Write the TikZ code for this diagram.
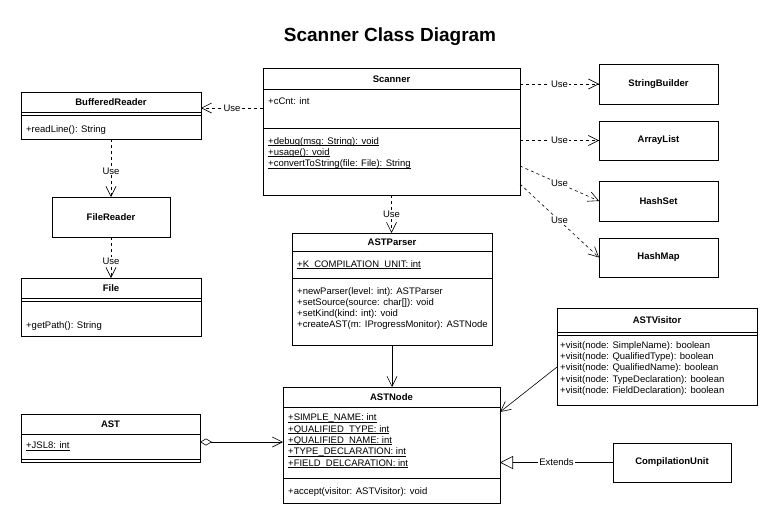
\documentclass[tikz,border=0pt]{standalone}
\usepackage{fontspec}
\setmainfont{Liberation Sans}
\usepackage{tikz}
\usetikzlibrary{arrows.meta}
\usetikzlibrary{calc}
\newlength\statw
\newcommand\ulstatic[1]{\settowidth\statw{#1}\rlap{\rule[-1.4pt]{\statw}{0.5pt}}#1}

\begin{document}
\begin{tikzpicture}[x=1pt,y=-1pt,
  cls/.style={draw=black, line width=0.8pt, inner sep=0pt, outer sep=0pt, anchor=north west},
  sep/.style={line width=0.8pt},
  cname/.style={font=\fontsize{9.5}{11.3}\selectfont\bfseries, inner sep=0pt},
  member/.style={font=\fontsize{9.5}{11.3}\selectfont, inner sep=0pt, anchor=west, align=left},
  uses/.style={line width=0.6pt, dash pattern=on 3pt off 3pt, -{Straight Barb[length=10pt,width=10pt]}},
  assoc/.style={line width=0.6pt, -{Straight Barb[length=10pt,width=10pt]}},
  agg/.style={line width=0.6pt, {Diamond[open,length=12pt,width=7pt]}-{Straight Barb[length=10pt,width=10pt]}},
  ext/.style={line width=0.6pt, -{Triangle[open,length=13pt,width=13pt]}},
  lbl/.style={font=\fontsize{9.5}{11}\selectfont, fill=white, inner sep=1pt}]
\useasboundingbox (0,0) rectangle (779,525);
\node[font=\fontsize{19}{22}\selectfont\bfseries] (title) at (390,37) {Scanner Class Diagram};

\node[cls, minimum width=257pt, minimum height=127pt] (scanner) at (263,68) {};
\draw[sep] (263,89) -- (520,89);
\draw[sep] (263,128) -- (520,128);
\node[cname] (scanner-n) at (391.5,79) {Scanner};
\node[member] (scanner-a) at (268,101) {+cCnt: int};
\node[member] (scanner-o) at (268,153) {\ulstatic{+debug(msg: String): void}\\\ulstatic{+usage(): void}\\\ulstatic{+convertToString(file: File): String}};

\node[cls, minimum width=180pt, minimum height=47pt] (reader) at (21,92) {};
\draw[sep] (21,112) -- (201,112);
\draw[sep] (21,115) -- (201,115);
\node[cname] (reader-n) at (111,102) {BufferedReader};
\node[member] (reader-o) at (26,130) {+readLine(): String};

\node[cls, cname, minimum width=118pt, minimum height=40pt] (freader) at (52,197) {FileReader};

\node[cls, minimum width=180pt, minimum height=58pt] (file) at (21,278) {};
\draw[sep] (21,298) -- (201,298);
\draw[sep] (21,301) -- (201,301);
\node[cname] (file-n) at (111,288) {File};
\node[member] (file-o) at (26,326) {+getPath(): String};

\node[cls, cname, minimum width=119pt, minimum height=40pt] (sbuilder) at (599,64) {StringBuilder};
\node[cls, cname, minimum width=119pt, minimum height=39pt] (alist) at (599,121) {ArrayList};
\node[cls, cname, minimum width=119pt, minimum height=40pt] (hset) at (599,181) {HashSet};
\node[cls, cname, minimum width=119pt, minimum height=39pt] (hmap) at (599,238) {HashMap};

\node[cls, minimum width=200pt, minimum height=112pt] (parser) at (292,233) {};
\draw[sep] (292,251) -- (492,251);
\draw[sep] (292,278) -- (492,278);
\node[cname] (parser-n) at (392,242) {ASTParser};
\node[member] (parser-a) at (297,265) {\ulstatic{+K\_COMPILATION\_UNIT: int}};
\node[member] (parser-o) at (297,308.5) {+newParser(level: int): ASTParser\\+setSource(source: char[]): void\\+setKind(kind: int): void\\+createAST(m: IProgressMonitor): ASTNode};

\node[cls, minimum width=200pt, minimum height=97pt] (visitor) at (557,308) {};
\draw[sep] (557,332) -- (757,332);
\draw[sep] (557,335) -- (757,335);
\node[cname] (visitor-n) at (657,320) {ASTVisitor};
\node[member] (visitor-o) at (560,368.5) {+visit(node: SimpleName): boolean\\+visit(node: QualifiedType): boolean\\+visit(node: QualifiedName): boolean\\+visit(node: TypeDeclaration): boolean\\+visit(node: FieldDeclaration): boolean};

\node[cls, minimum width=217pt, minimum height=116pt] (astnode) at (283,387) {};
\draw[sep] (283,407) -- (500,407);
\draw[sep] (283,478) -- (500,478);
\node[cname] (astnode-n) at (391.5,397) {ASTNode};
\node[member] (astnode-a) at (288,441) {\ulstatic{+SIMPLE\_NAME: int}\\\ulstatic{+QUALIFIED\_TYPE: int}\\\ulstatic{+QUALIFIED\_NAME: int}\\\ulstatic{+TYPE\_DECLARATION: int}\\\ulstatic{+FIELD\_DELCARATION: int}};
\node[member] (astnode-o) at (288,492) {+accept(visitor: ASTVisitor): void};

\node[cls, minimum width=179pt, minimum height=48pt] (ast) at (21,414) {};
\draw[sep] (21,434) -- (200,434);
\draw[sep] (21,459) -- (200,459);
\node[cname] (ast-n) at (110.5,424) {AST};
\node[member] (ast-a) at (26,446) {\ulstatic{+JSL8: int}};

\node[cls, cname, minimum width=118pt, minimum height=39pt] (cunit) at (613,443) {CompilationUnit};

\coordinate (scan-w) at (263,108);
\coordinate (scan-hs) at (520,166);
\coordinate (scan-hm) at (520,184);
\coordinate (vis-w) at (557,367);
\coordinate (node-e) at (500,412);
\coordinate (ast-e) at (200,442);

\draw[uses] (scan-w) -- (scan-w -| reader.east) node[lbl, midway] {Use};
\draw[uses] (reader.south) -- (freader.north) node[lbl, pos=0.55] {Use};
\draw[uses] (freader.south) -- (file.north) node[lbl, pos=0.6] {Use};
\draw[uses] (sbuilder.west -| scanner.east) -- (sbuilder.west) node[lbl, midway] {Use};
\draw[uses] (alist.west -| scanner.east) -- (alist.west) node[lbl, midway] {Use};
\draw[uses] (scan-hs) -- (hset.west) node[lbl, midway] {Use};
\draw[uses] (scan-hm) -- (hmap.west) node[lbl, midway] {Use};
\draw[uses] (scanner.south) -- (scanner.south |- parser.north) node[lbl, midway] {Use};
\draw[assoc] (parser.south) -- (parser.south |- astnode.north);
\draw[assoc] (vis-w) -- (node-e);
\draw[agg] (ast-e) -- (ast-e -| astnode.west);
\draw[ext] (cunit.west) -- (cunit.west -| astnode.east) node[lbl, midway] {Extends};

\end{tikzpicture}
\end{document}
